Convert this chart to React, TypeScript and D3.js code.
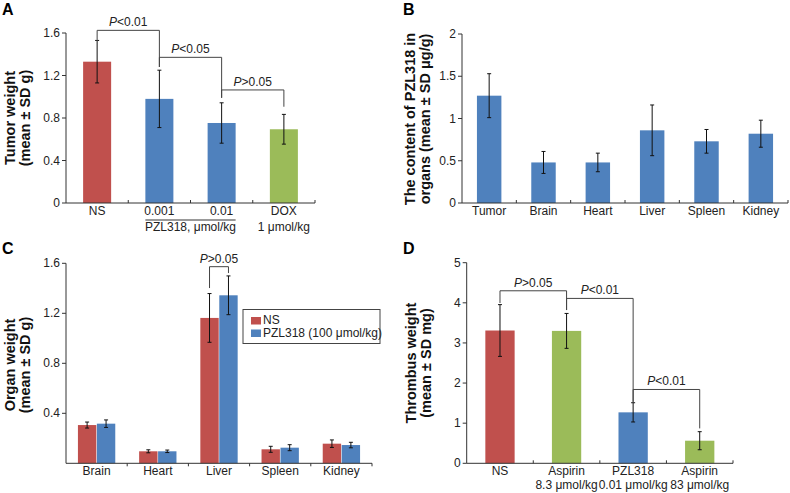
import React from "react";
import * as d3 from "d3";

const RED = "#C0504D";
const BLUE = "#4F81BD";
const GREEN = "#9BBB59";
const FONT = "Liberation Sans, Arial, sans-serif";

// Panel A
const catsA = ["NS", "0.001", "0.01", "DOX"];
const subA = ["", "", "", "1 μmol/kg"];
const meanA = [1.33, 0.98, 0.753, 0.694];
const sdA = [0.2, 0.27, 0.19, 0.14];
const colorsA = [RED, BLUE, BLUE, GREEN];
const ticksA = [0, 0.4, 0.8, 1.2, 1.6];
const bracketsA = [
  { a: 0, b: 1, top: 1.625, ea: 1.525, eb: 1.28, label: "<0.01" },
  { a: 1, b: 2, top: 1.371, ea: 1.28, eb: 0.99, label: "<0.05" },
  { a: 2, b: 3, top: 1.064, ea: 0.99, eb: 0.906, label: ">0.05" },
];

// Panel B
const catsB = ["Tumor", "Brain", "Heart", "Liver", "Spleen", "Kidney"];
const meanB = [1.27, 0.48, 0.48, 0.86, 0.73, 0.82];
const sdB = [0.26, 0.13, 0.11, 0.3, 0.14, 0.16];
const ticksB = [0, 0.5, 1, 1.5, 2];

// Panel C
const catsC = ["Brain", "Heart", "Liver", "Spleen", "Kidney"];
const seriesC = ["NS", "PZL318 (100 μmol/kg)"];
const nsC = [0.306, 0.096, 1.163, 0.112, 0.157];
const nsSdC = [0.024, 0.012, 0.195, 0.024, 0.03];
const pzlC = [0.317, 0.096, 1.344, 0.125, 0.146];
const pzlSdC = [0.03, 0.01, 0.155, 0.024, 0.022];
const ticksC = [0.4, 0.8, 1.2, 1.6];

// Panel D
const catsD = ["NS", "Aspirin", "PZL318", "Aspirin"];
const subD = ["", "8.3 μmol/kg", "0.01 μmol/kg", "83 μmol/kg"];
const meanD = [3.31, 3.3, 1.27, 0.563];
const sdD = [0.645, 0.435, 0.24, 0.225];
const colorsD = [RED, GREEN, BLUE, GREEN];
const ticksD = [0, 1, 2, 3, 4, 5];
const bracketsD = [
  { a: 0, b: 1, top: 4.3, ea: 3.995, eb: 3.82, label: ">0.05" },
  { a: 1, b: 2, top: 4.11, ea: 3.82, eb: 1.53, label: "<0.01" },
  { a: 2, b: 3, top: 1.84, ea: 1.53, eb: 0.87, label: "<0.01" },
];

const AXIS = "#333";
const BRK = "#444";

const fmt1 = (v: number) => (v === 0 ? "0" : d3.format(".1f")(v));

function PLabel({ x, y, rest }: { x: number; y: number; rest: string }) {
  return (
    <text x={x} y={y} textAnchor="middle" fontSize={12} fontFamily={FONT} fill="#222">
      <tspan fontStyle="italic">P</tspan>
      {rest}
    </text>
  );
}

function YTitle({ x1, x2, cy, l1, l2 }: { x1: number; x2: number; cy: number; l1: string; l2: string }) {
  return (
    <g fontFamily={FONT} fontWeight="bold" fontSize={14.5} fill="#111" textAnchor="middle">
      <text transform={`translate(${x1},${cy}) rotate(-90)`}>{l1}</text>
      <text transform={`translate(${x2},${cy}) rotate(-90)`}>{l2}</text>
    </g>
  );
}

function Axes({
  x0, x1, y, ticks, fmt, nb, tickDir,
}: {
  x0: number; x1: number; y: d3.ScaleLinear<number, number>; ticks: number[]; fmt: (v: number) => string; nb: number; tickDir: number;
}) {
  const base = y(0);
  const top = y(ticks[ticks.length - 1]);
  const bw = (x1 - x0) / nb;
  return (
    <g>
      <line x1={x0} x2={x0} y1={top} y2={base} stroke={AXIS} strokeWidth={1} />
      <line x1={x0} x2={x1} y1={base} y2={base} stroke={AXIS} strokeWidth={1} />
      {ticks.map((t) => (
        <g key={t}>
          <line x1={x0 - 4} x2={x0} y1={y(t)} y2={y(t)} stroke={AXIS} />
          <text x={x0 - 6} y={y(t) + 4} textAnchor="end" fontSize={12} fontFamily={FONT} fill="#222">
            {fmt(t)}
          </text>
        </g>
      ))}
      {d3.range(1, nb + 1).map((i) => (
        <line key={i} x1={x0 + i * bw} x2={x0 + i * bw} y1={base} y2={base - 3 * tickDir} stroke={AXIS} />
      ))}
    </g>
  );
}

function ErrBar({ x, y1, y2 }: { x: number; y1: number; y2: number }) {
  return (
    <g stroke="#111" strokeWidth={1}>
      <line x1={x} x2={x} y1={y1} y2={y2} />
      <line x1={x - 2} x2={x + 2} y1={y1} y2={y1} />
      <line x1={x - 2} x2={x + 2} y1={y2} y2={y2} />
    </g>
  );
}

function Bracket({ xa, xb, top, ea, eb, label }: { xa: number; xb: number; top: number; ea: number; eb: number; label: string }) {
  return (
    <g>
      <path d={`M${xa},${ea}V${top}H${xb}V${eb}`} fill="none" stroke={BRK} strokeWidth={1} />
      <PLabel x={(xa + xb) / 2} y={top - 4} rest={label} />
    </g>
  );
}

function PanelA() {
  const x = d3.scaleBand<string>().domain(catsA).range([66, 315]).paddingInner(0.55).paddingOuter(0.275);
  const y = d3.scaleLinear().domain([0, 1.6]).range([203, 33]);
  const cx = (i: number) => (x(catsA[i]) as number) + x.bandwidth() / 2;
  return (
    <g>
      <text x={2} y={15} fontSize={16} fontWeight="bold" fontFamily={FONT}>A</text>
      <YTitle x1={15} x2={30} cy={118} l1="Tumor weight" l2="(mean ± SD g)" />
      {catsA.map((c, i) => (
        <rect key={c} x={x(c)} y={y(meanA[i])} width={x.bandwidth()} height={y(0) - y(meanA[i])} fill={colorsA[i]} />
      ))}
      <Axes x0={66} x1={315} y={y} ticks={ticksA} fmt={fmt1} nb={catsA.length} tickDir={1} />
      {catsA.map((c, i) => (
        <ErrBar key={c} x={cx(i)} y1={y(meanA[i] + sdA[i])} y2={y(meanA[i] - sdA[i])} />
      ))}
      {bracketsA.map((b, i) => (
        <Bracket key={i} xa={cx(b.a)} xb={cx(b.b)} top={y(b.top)} ea={y(b.ea)} eb={y(b.eb)} label={b.label} />
      ))}
      {catsA.map((c, i) => (
        <g key={c} fontSize={12} fontFamily={FONT} fill="#222" textAnchor="middle">
          <text x={cx(i)} y={215}>{c}</text>
          {subA[i] && <text x={cx(i)} y={231}>{subA[i]}</text>}
        </g>
      ))}
      <line x1={x(catsA[1])} x2={(x(catsA[2]) as number) + x.bandwidth()} y1={220} y2={220} stroke="#333" />
      <text x={(cx(1) + cx(2)) / 2} y={231} textAnchor="middle" fontSize={12} fontFamily={FONT} fill="#222">
        PZL318, μmol/kg
      </text>
    </g>
  );
}

function PanelB() {
  const x = d3.scaleBand<string>().domain(catsB).range([462, 788]).paddingInner(0.55).paddingOuter(0.275);
  const y = d3.scaleLinear().domain([0, 2]).range([203, 34]);
  const cx = (i: number) => (x(catsB[i]) as number) + x.bandwidth() / 2;
  return (
    <g>
      <text x={403} y={15} fontSize={16} fontWeight="bold" fontFamily={FONT}>B</text>
      <YTitle x1={415} x2={430} cy={119} l1="The content of PZL318 in" l2="organs (mean ± SD μg/g)" />
      {catsB.map((c, i) => (
        <rect key={c} x={x(c)} y={y(meanB[i])} width={x.bandwidth()} height={y(0) - y(meanB[i])} fill={BLUE} />
      ))}
      <Axes x0={462} x1={788} y={y} ticks={ticksB} fmt={(v) => String(v)} nb={catsB.length} tickDir={1} />
      {catsB.map((c, i) => (
        <ErrBar key={c} x={cx(i)} y1={y(meanB[i] + sdB[i])} y2={y(meanB[i] - sdB[i])} />
      ))}
      {catsB.map((c, i) => (
        <text key={c} x={cx(i)} y={215} textAnchor="middle" fontSize={12} fontFamily={FONT} fill="#222">{c}</text>
      ))}
    </g>
  );
}

function PanelC() {
  const x = d3.scaleBand<string>().domain(catsC).range([66, 372]).paddingInner(0.39).paddingOuter(0.195);
  const xs = d3.scaleBand<string>().domain(seriesC).range([0, x.bandwidth()]).paddingInner(0.03);
  const y = d3.scaleLinear().domain([0, 1.6]).range([463.3, 263.3]);
  const vals = [nsC, pzlC];
  const sds = [nsSdC, pzlSdC];
  const cols = [RED, BLUE];
  const bx = (i: number, s: number) => (x(catsC[i]) as number) + (xs(seriesC[s]) as number) + xs.bandwidth() / 2;
  return (
    <g>
      <text x={2} y={254} fontSize={16} fontWeight="bold" fontFamily={FONT}>C</text>
      <YTitle x1={15} x2={30} cy={365} l1="Organ weight" l2="(mean ± SD g)" />
      {catsC.map((c, i) =>
        seriesC.map((s, k) => (
          <rect key={c + s} x={(x(c) as number) + (xs(s) as number)} y={y(vals[k][i])} width={xs.bandwidth()}
            height={y(0) - y(vals[k][i])} fill={cols[k]} />
        ))
      )}
      <Axes x0={66} x1={372} y={y} ticks={ticksC} fmt={fmt1} nb={catsC.length} tickDir={-1} />
      {catsC.map((c, i) =>
        seriesC.map((s, k) => (
          <ErrBar key={c + s} x={bx(i, k)} y1={y(vals[k][i] + sds[k][i])} y2={y(vals[k][i] - sds[k][i])} />
        ))
      )}
      <Bracket xa={bx(2, 0)} xb={bx(2, 1)} top={y(1.573)} ea={y(1.402)} eb={y(1.522)} label=">0.05" />
      {catsC.map((c, i) => (
        <text key={c} x={(x(c) as number) + x.bandwidth() / 2} y={475} textAnchor="middle" fontSize={12} fontFamily={FONT} fill="#222">{c}</text>
      ))}
      <rect x={243} y={309.5} width={137} height={34} fill="white" stroke="#444" />
      {seriesC.map((s, k) => (
        <g key={s}>
          <rect x={251} y={317 + k * 12.5} width={10} height={7.5} fill={cols[k]} />
          <text x={263} y={324 + k * 12.5} fontSize={12} fontFamily={FONT} fill="#222">{s}</text>
        </g>
      ))}
    </g>
  );
}

function PanelD() {
  const x = d3.scaleBand<string>().domain(d3.range(catsD.length).map(String)).range([466.7, 733]).paddingInner(0.56).paddingOuter(0.28);
  const y = d3.scaleLinear().domain([0, 5]).range([463.3, 262.7]);
  const cx = (i: number) => (x(String(i)) as number) + x.bandwidth() / 2;
  return (
    <g>
      <text x={403} y={254} fontSize={16} fontWeight="bold" fontFamily={FONT}>D</text>
      <YTitle x1={416} x2={431} cy={363} l1="Thrombus weight" l2="(mean ± SD mg)" />
      {catsD.map((c, i) => (
        <rect key={i} x={x(String(i))} y={y(meanD[i])} width={x.bandwidth()} height={y(0) - y(meanD[i])} fill={colorsD[i]} />
      ))}
      <Axes x0={466.7} x1={733} y={y} ticks={ticksD} fmt={(v) => String(v)} nb={catsD.length} tickDir={1} />
      {catsD.map((c, i) => (
        <ErrBar key={i} x={cx(i)} y1={y(meanD[i] + sdD[i])} y2={y(meanD[i] - sdD[i])} />
      ))}
      {bracketsD.map((b, i) => (
        <Bracket key={i} xa={cx(b.a)} xb={cx(b.b)} top={y(b.top)} ea={y(b.ea)} eb={y(b.eb)} label={b.label} />
      ))}
      {catsD.map((c, i) => (
        <g key={i} fontSize={12} fontFamily={FONT} fill="#222" textAnchor="middle">
          <text x={cx(i)} y={475}>{c}</text>
          {subD[i] && <text x={cx(i)} y={488.5}>{subD[i]}</text>}
        </g>
      ))}
    </g>
  );
}

export default function App() {
  return (
    <svg width={790} height={493} style={{ position: "absolute", left: 0, top: 0, background: "white" }}>
      <rect width={790} height={493} fill="white" />
      <PanelA />
      <PanelB />
      <PanelC />
      <PanelD />
    </svg>
  );
}
